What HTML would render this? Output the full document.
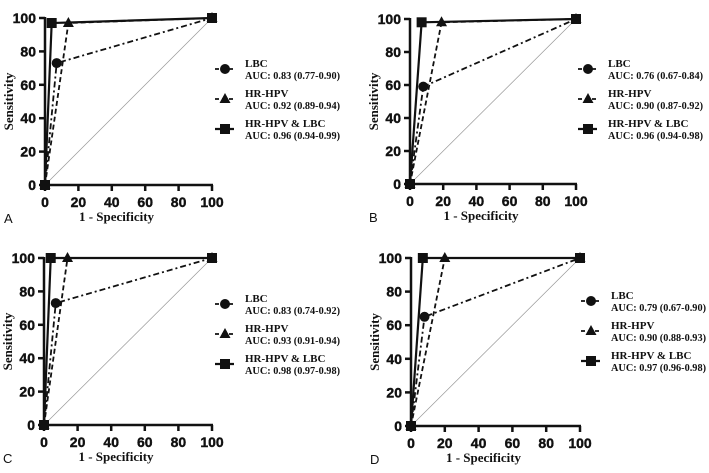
<!DOCTYPE html>
<html><head><meta charset="utf-8"><style>
html,body{margin:0;padding:0;background:#fff;}
svg{display:block;}
.tick{font:bold 14px "Liberation Sans",sans-serif;fill:#111;stroke:#111;stroke-width:0.4;}
.leg{font:bold 11px "Liberation Serif",serif;fill:#111;}
.ttl{font:bold 13px "Liberation Serif",serif;fill:#111;}
.pl{font:13px "Liberation Sans",sans-serif;fill:#111;}
</style></head><body>
<svg id="chart" width="709" height="473" viewBox="0 0 709 473" xmlns="http://www.w3.org/2000/svg"></svg>
<script>
const NS="http://www.w3.org/2000/svg";
const ticks=[0,20,40,60,80,100];
const seriesNames=["LBC","HR-HPV","HR-HPV & LBC"];
const panelLetters=["A","B","C","D"];
const aucA=["AUC: 0.83 (0.77-0.90)","AUC: 0.92 (0.89-0.94)","AUC: 0.96 (0.94-0.99)"];
const aucB=["AUC: 0.76 (0.67-0.84)","AUC: 0.90 (0.87-0.92)","AUC: 0.96 (0.94-0.98)"];
const aucC=["AUC: 0.83 (0.74-0.92)","AUC: 0.93 (0.91-0.94)","AUC: 0.98 (0.97-0.98)"];
const aucD=["AUC: 0.79 (0.67-0.90)","AUC: 0.90 (0.88-0.93)","AUC: 0.97 (0.96-0.98)"];
const lbcX_A=[0,7,100],lbcY_A=[0,73,100];
const hpvX_A=[0,14,100],hpvY_A=[0,97,100];
const comX_A=[0,4,100],comY_A=[0,97,100];
const lbcX_B=[0,8,100],lbcY_B=[0,59,100];
const hpvX_B=[0,19,100],hpvY_B=[0,98,100];
const comX_B=[0,7,100],comY_B=[0,98,100];
const lbcX_C=[0,7,100],lbcY_C=[0,73,100];
const hpvX_C=[0,14,100],hpvY_C=[0,100,100];
const comX_C=[0,4,100],comY_C=[0,100,100];
const lbcX_D=[0,8,100],lbcY_D=[0,65,100];
const hpvX_D=[0,20,100],hpvY_D=[0,100,100];
const comX_D=[0,7,100],comY_D=[0,100,100];

const svg=document.getElementById('chart');
function el(tag,attrs,parent,text){const e=document.createElementNS(NS,tag);for(const k in attrs)e.setAttribute(k,attrs[k]);if(text!==undefined)e.textContent=text;(parent||svg).appendChild(e);return e;}
const dashes=["6,3,2,3","5,3",""];
function marker(g,type,x,y){
  let m;
  if(type===0)m=el('circle',{cx:x,cy:y,r:5,fill:'#111'},g);
  else if(type===1)m=el('polygon',{points:`${x},${y-6} ${x-5.5},${y+4} ${x+5.5},${y+4}`,fill:'#111'},g);
  else m=el('rect',{x:x-5,y:y-5,width:10,height:10,fill:'#111'},g);
  return m;
}
function panel(idx,L,R,T,B,legX,legY,auc,data){
  const g=el('g',{});
  
  
  const sx=v=>L+(R-L)*v/100, sy=v=>B-(B-T)*v/100;
  const d=el('line',{x1:sx(0),y1:sy(0),x2:sx(100),y2:sy(100),stroke:'#999','stroke-width':0.7},g);
  
  
  const ya=el('line',{x1:L,y1:T-1,x2:L,y2:B+1,stroke:'#111','stroke-width':2.5},g);
  
  
  const xa=el('line',{x1:L-1,y1:B,x2:R+1,y2:B,stroke:'#111','stroke-width':2.5},g);
  
  
  ticks.forEach(t=>{
    el('line',{x1:L-6,y1:sy(t),x2:L,y2:sy(t),stroke:'#111','stroke-width':2.5},g);
    const yt=el('text',{x:L-9,y:sy(t)+5,'text-anchor':'end',class:'tick'},g,t);
    
    
    el('line',{x1:sx(t),y1:B,x2:sx(t),y2:B+6,stroke:'#111','stroke-width':2.5},g);
    const xt=el('text',{x:sx(t),y:B+22,'text-anchor':'middle',class:'tick'},g,t);
    
    
  });
  const xtl=el('text',{x:(L+R)/2-12,y:B+36,'text-anchor':'middle',class:'ttl'},g,'1 - Specificity');
  
  
  const cy=(T+B)/2;
  const ytl=el('text',{x:0,y:0,'text-anchor':'middle',class:'ttl',transform:`translate(${L-32},${cy}) rotate(-90)`},g,'Sensitivity');
  
  
  const pl=el('text',{x:L-41,y:B+38,class:'pl'},g,panelLetters[idx]);
  
  
  data.forEach((s,i)=>{
    const pts=s[0].map((x,j)=>sx(x)+','+sy(s[1][j])).join(' ');
    const ln=el('polyline',{points:pts,fill:'none',stroke:'#111','stroke-width':i===2?2.2:1.8,'stroke-dasharray':dashes[i]},g);
    
    
    s[0].forEach((x,j)=>{const m=marker(g,i,sx(x),sy(s[1][j]));
      
      });
    const ly=legY+i*30;
    const lg=el('g',{},g);
    
    
    el('line',{x1:legX,y1:ly,x2:legX+19,y2:ly,stroke:'#111','stroke-width':i===2?2.2:1.8,'stroke-dasharray':i===2?'':'4,3'},lg);
    marker(lg,i,legX+10,ly);
    el('text',{x:legX+30,y:ly-2,class:'leg'},lg,seriesNames[i]);
    el('text',{x:legX+30,y:ly+10,class:'leg',textLength:95,lengthAdjust:'spacingAndGlyphs'},lg,auc[i]);
  });
}
panel(0,45,212,18,185,215,69,aucA,[[lbcX_A,lbcY_A],[hpvX_A,hpvY_A],[comX_A,comY_A]]);
panel(1,410,576,19,184,578,69,aucB,[[lbcX_B,lbcY_B],[hpvX_B,hpvY_B],[comX_B,comY_B]]);
panel(2,44,212,258,425,215,304,aucC,[[lbcX_C,lbcY_C],[hpvX_C,hpvY_C],[comX_C,comY_C]]);
panel(3,411,580,258,426,581,301,aucD,[[lbcX_D,lbcY_D],[hpvX_D,hpvY_D],[comX_D,comY_D]]);
</script>
</body></html>
